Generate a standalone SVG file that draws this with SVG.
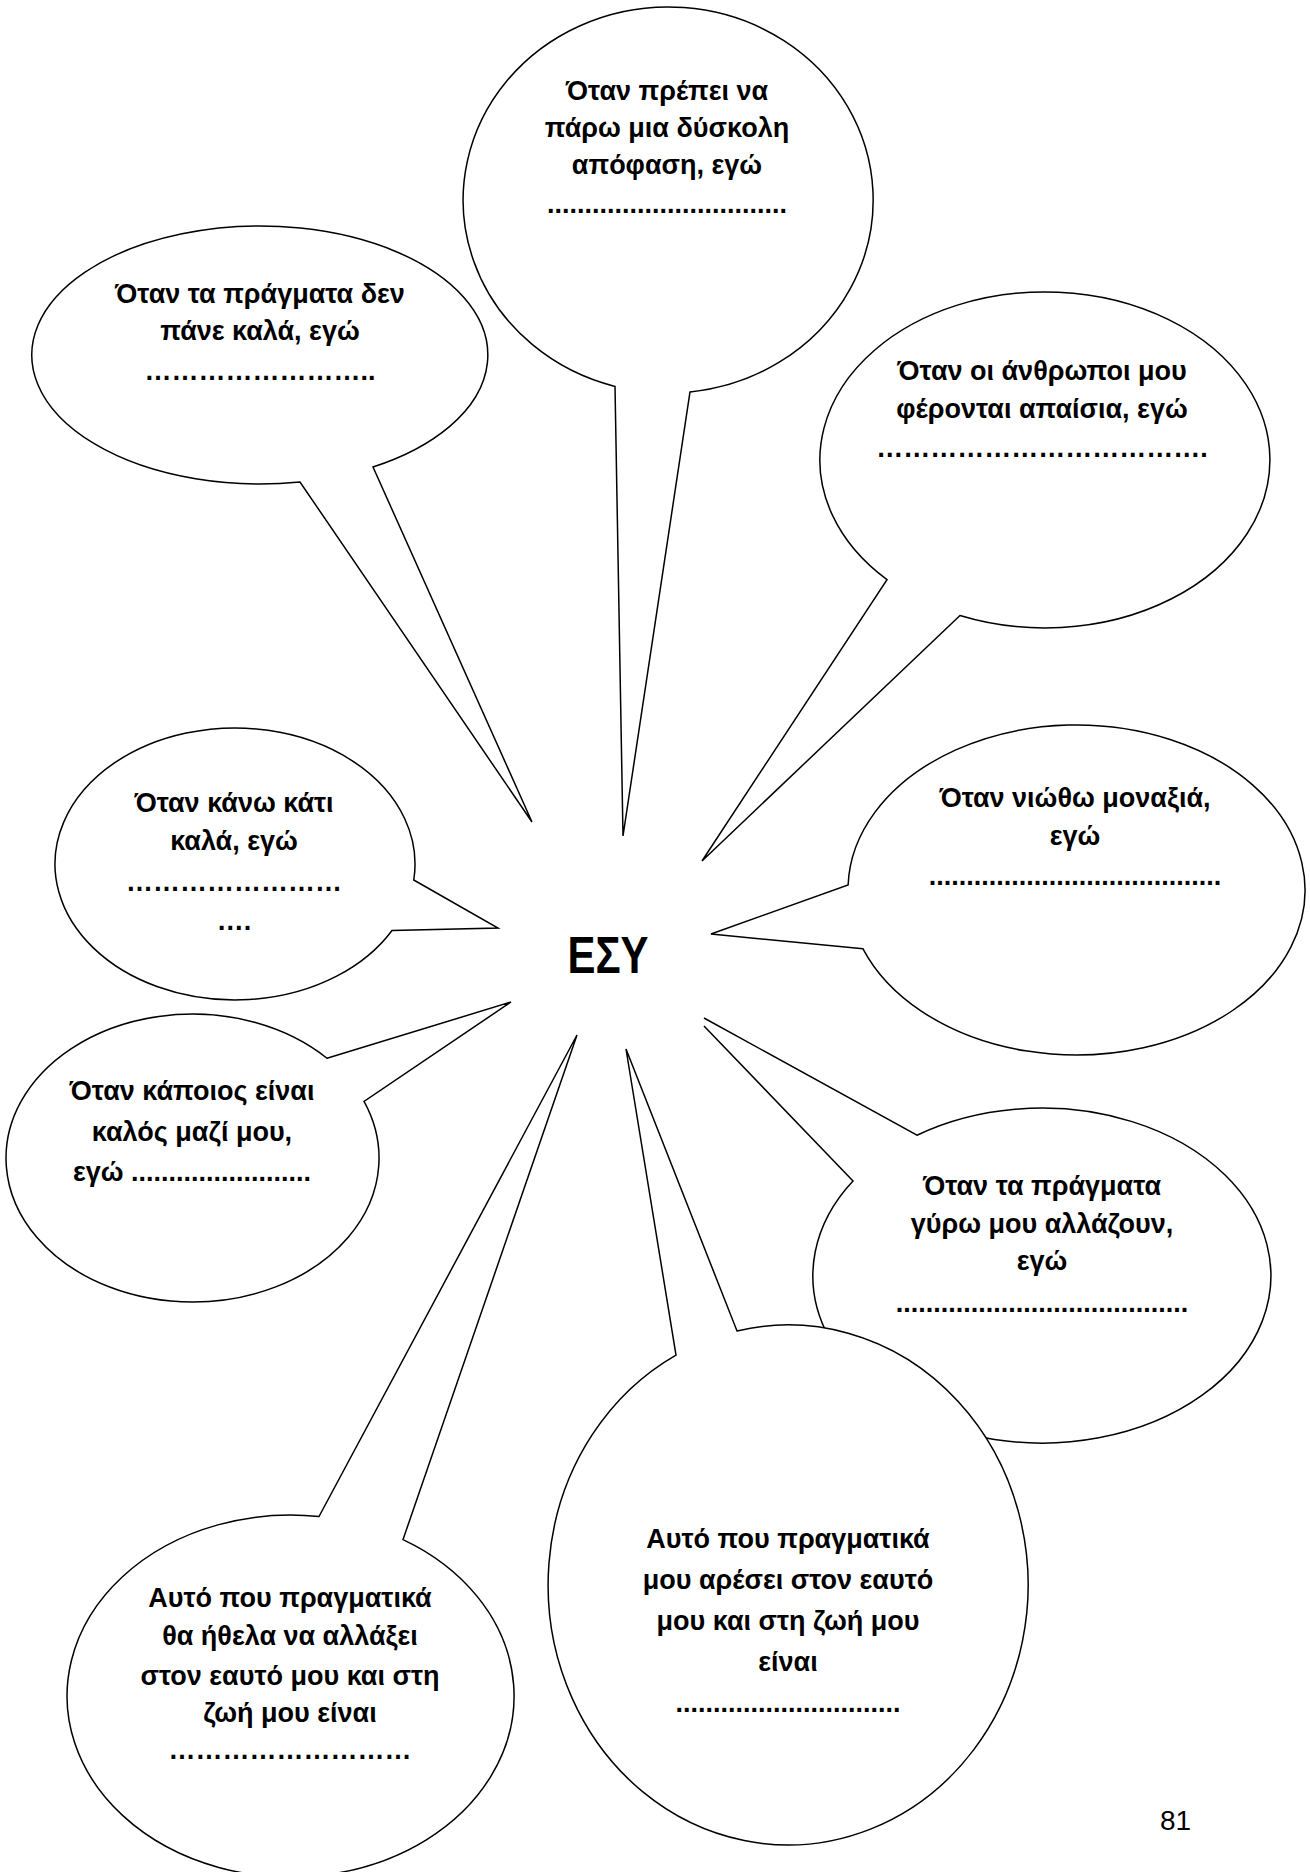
<svg xmlns="http://www.w3.org/2000/svg" width="1310" height="1872" viewBox="0 0 1310 1872">
  <style>
    .bubble { fill: #ffffff; stroke: #000000; stroke-width: 1.5; stroke-linejoin: miter; }
    .t { font-family: "Liberation Sans", Arial, sans-serif; font-weight: bold; font-size: 27px; text-anchor: middle; fill: #000000; }
    .hub { font-family: "Liberation Sans", Arial, sans-serif; font-weight: bold; font-size: 52px; text-anchor: middle; fill: #000000; }
    .page { font-family: "Liberation Sans", Arial, sans-serif; font-size: 28px; fill: #000000; }
  </style>
  <rect width="1310" height="1872" fill="#ffffff"/>

  <!-- speech bubbles: ellipse outline with a pointed tail aimed at the centre word -->
  <g id="bubble-decision">
    <path class="bubble" d="M690,391.9 L623,836 L615,386.4 A205,193 0 1 1 690,391.9 Z"/>
    <text class="t" x="667" y="100">Όταν πρέπει να</text>
    <text class="t" x="667" y="137">πάρω μια δύσκολη</text>
    <text class="t" x="667" y="174">απόφαση, εγώ</text>
    <text class="t" x="667" y="213">................................</text>
  </g>

  <g id="bubble-bad-times">
    <path class="bubble" d="M373,467 L532,822 L300,482 A228,129 0 1 1 373,467 Z"/>
    <text class="t" x="260" y="303">Όταν τα πράγματα δεν</text>
    <text class="t" x="260" y="340">πάνε καλά, εγώ</text>
    <text class="t" x="260" y="380">……………………..</text>
  </g>

  <g id="bubble-people">
    <path class="bubble" d="M960,615.5 L702,861 L887,579.6 A225,168 0 1 1 960,615.5 Z"/>
    <text class="t" x="1042" y="380">Όταν οι άνθρωποι μου</text>
    <text class="t" x="1042" y="418">φέρονται απαίσια, εγώ</text>
    <text class="t" x="1042" y="457">……………………………….</text>
  </g>

  <g id="bubble-good-deed">
    <path class="bubble" d="M413.75,880 L498,928 L392,930.5 A180,136 0 1 1 413.75,880 Z"/>
    <text class="t" x="234" y="812">Όταν κάνω κάτι</text>
    <text class="t" x="234" y="850">καλά, εγώ</text>
    <text class="t" x="234" y="891">……………………</text>
    <text class="t" x="234" y="930">….</text>
  </g>

  <g id="bubble-lonely">
    <path class="bubble" d="M863,948.8 L711,934 L848.1,885 A228.5,165 0 1 1 863,948.8 Z"/>
    <text class="t" x="1075" y="807">Όταν νιώθω μοναξιά,</text>
    <text class="t" x="1075" y="845">εγώ</text>
    <text class="t" x="1075" y="885">.......................................</text>
  </g>

  <g id="bubble-kindness">
    <path class="bubble" d="M327,1058.25 L511,1002 L364,1101.4 A186.5,144 0 1 1 327,1058.25 Z"/>
    <text class="t" x="192" y="1100">Όταν κάποιος είναι</text>
    <text class="t" x="192" y="1141">καλός μαζί μου,</text>
    <text class="t" x="192" y="1181">εγώ ........................</text>
  </g>

  <g id="bubble-change-around">
    <!-- open outline: the tail ends in two separate points -->
    <path class="bubble" d="M704,1026 L853,1180.9 A229,167.5 0 1 0 917,1135.2 L704,1018"/>
    <text class="t" x="1042" y="1195">Όταν τα πράγματα</text>
    <text class="t" x="1042" y="1233">γύρω μου αλλάζουν,</text>
    <text class="t" x="1042" y="1270">εγώ</text>
    <text class="t" x="1042" y="1312">.......................................</text>
  </g>

  <g id="bubble-wish-change">
    <path class="bubble" d="M319,1516.5 L577,1035 L403,1539.6 A223.5,181 0 1 1 319,1516.5 Z"/>
    <text class="t" x="290" y="1607">Αυτό που πραγματικά</text>
    <text class="t" x="290" y="1645">θα ήθελα να αλλάξει</text>
    <text class="t" x="290" y="1685">στον εαυτό μου και στη</text>
    <text class="t" x="290" y="1722">ζωή μου είναι</text>
    <text class="t" x="290" y="1759">………………………</text>
  </g>

  <g id="bubble-like">
    <path class="bubble" d="M676,1355.05 L626,1049 L737,1330.9 A240,260 0 1 1 676,1355.05 Z"/>
    <text class="t" x="788" y="1548">Αυτό που πραγματικά</text>
    <text class="t" x="788" y="1589">μου αρέσει στον εαυτό</text>
    <text class="t" x="788" y="1630">μου και στη ζωή μου</text>
    <text class="t" x="788" y="1671">είναι</text>
    <text class="t" x="788" y="1712">..............................</text>
  </g>

  <g id="hub">
    <text class="hub" x="608" y="973" textLength="81" lengthAdjust="spacingAndGlyphs">ΕΣΥ</text>
  </g>

  <text class="page" x="1160" y="1830">81</text>
</svg>
